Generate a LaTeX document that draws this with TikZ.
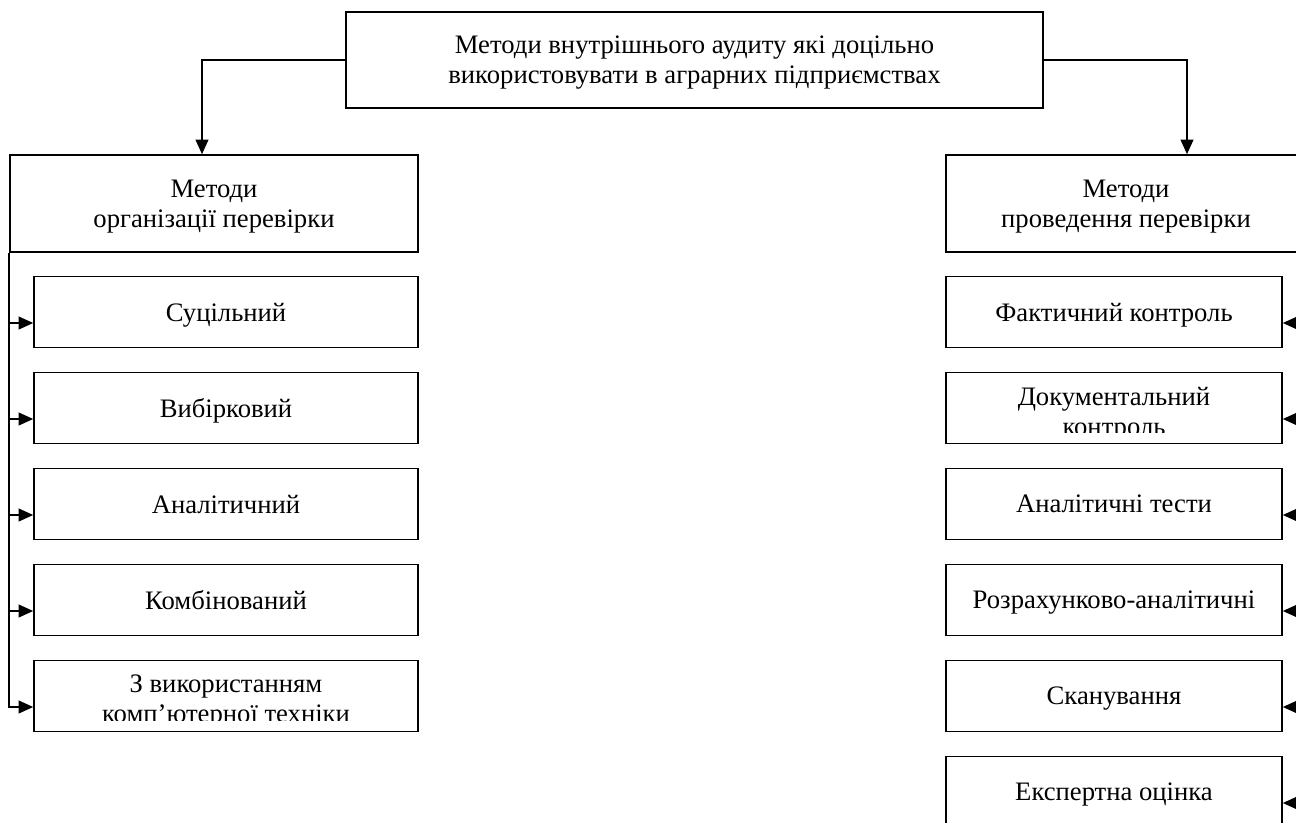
\documentclass[tikz,border=0pt]{standalone}
\usepackage{fontspec}
\setmainfont{Liberation Serif}
\usetikzlibrary{arrows.meta,calc}
\begin{document}
\begin{tikzpicture}[x=0.75pt,y=-0.75pt,
  boxline/.style={draw=black,line width=1.1pt},
  basebox/.style={rectangle,inner sep=0pt,align=center,text depth=0pt,
    font=\fontsize{20pt}{22.5pt}\selectfont},
  topbox/.style={basebox,boxline,minimum width=522.75pt,minimum height=72pt},
  parbox/.style={basebox,boxline,minimum height=72.75pt},
  childbox/.style={basebox,boxline,minimum height=53.25pt},
  lchild/.style={childbox,minimum width=288pt},
  rchild/.style={childbox,minimum width=252pt},
  txt/.style={basebox},
  conn/.style={line width=1.6pt},
  arr/.style={conn,-{Triangle[length=11pt,width=9.5pt]}}
]
\useasboundingbox (0,0) rectangle (1296,823);
\clip (0,0) rectangle (1296,823);

% top
\node[topbox] (top) at (694.5,60) {Методи внутрішнього аудиту які доцільно\\використовувати в аграрних підприємствах};

% parents
\node[parbox,minimum width=306pt] (lp) at (214,203.5) {Методи\\організації перевірки};
\node[parbox,minimum width=270pt] (rp) at (1126,203.5) {Методи\\проведення перевірки};

\coordinate (lx) at (202,0);
\coordinate (rx) at (1187,0);
\draw[arr] (top.west) -| (lp.north -| lx);
\draw[arr] (top.east) -| (rp.north -| rx);

% left children
\node[lchild] (l1) at (226,312) {Суцільний};
\node[lchild] (l2) at (226,408) {Вибірковий};
\node[lchild] (l3) at (226,504) {Аналітичний};
\node[lchild] (l4) at (226,600) {Комбінований};
\node[lchild] (l5) at (226,696) {};
\begin{scope}
  \clip ($(l5.west)+(0,-40)$) rectangle ($(l5.east)+(0,24)$);
  \node[txt] (l5t) at ($(l5.center)+(0,3)$) {З використанням\\комп’ютерної техніки};
\end{scope}

% right children
\node[rchild] (r1) at (1114,312) {Фактичний контроль};
\node[rchild] (r2) at (1114,408) {};
\begin{scope}
  \clip ($(r2.west)+(0,-40)$) rectangle ($(r2.east)+(0,25)$);
  \node[txt] (r2t) at ($(r2.center)+(0,3)$) {Документальний\\контроль};
\end{scope}
\node[rchild] (r3) at (1114,504) {Аналітичні тести};
\node[rchild] (r4) at (1114,600) {Розрахунково-аналітичні};
\node[rchild] (r5) at (1114,696) {Сканування};
\node[rchild] (r6) at (1114,792) {Експертна оцінка};

% left tree
\foreach \n in {l1,l2,l3,l4,l5}{
  \coordinate (\n a) at ($(\n.west)+(0,11)$);
}
\draw[arr] (lp.south west) |- (l5a);
\foreach \n in {l1,l2,l3,l4}{
  \draw[arr] (lp.south west |- \n a) -- (\n a);
}

% right tree
\foreach \n in {r1,r2,r3,r4,r5,r6}{
  \coordinate (\n a) at ($(\n.east)+(0,11)$);
}
\draw[arr] (rp.south east) |- (r6a);
\foreach \n in {r1,r2,r3,r4,r5}{
  \draw[arr] (rp.south east |- \n a) -- (\n a);
}
\end{tikzpicture}
\end{document}
